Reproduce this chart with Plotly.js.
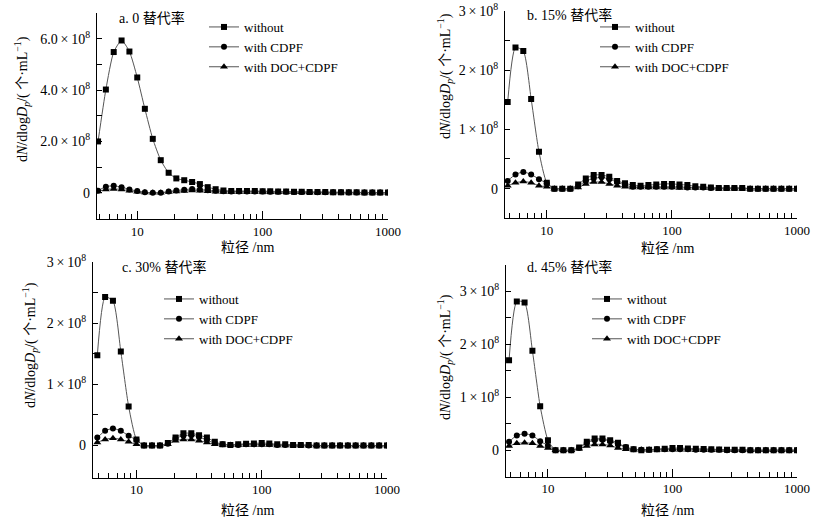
<!DOCTYPE html>
<html>
<head>
<meta charset="utf-8">
<script src="https://cdn.plot.ly/plotly-3.0.1.min.js"></script>
<style>html,body{margin:0;padding:0;background:#fff;}#chart{width:839px;height:523px;}</style>
</head>
<body>
<div id="chart"></div>
<script>
// particle diameter (nm)
const sizes = [4.87,5.62,6.49,7.50,8.66,10.0,11.5,13.3,15.4,17.8,20.5,23.7,27.4,31.6,36.5,42.2,48.7,56.2,64.9,75.0,86.6,100,115,133,154,178,205,237,274,316,365,422,487,562,649,750,866,1000];

// dN/dlogDp in units of 1e8 per mL
// a. 0 substitution
const a_without = [2.00,4.02,5.48,5.93,5.50,4.49,3.27,2.10,1.27,0.78,0.56,0.49,0.42,0.34,0.22,0.14,0.09,0.07,0.07,0.07,0.07,0.06,0.06,0.05,0.05,0.04,0.04,0.03,0.03,0.03,0.02,0.02,0.02,0.02,0.01,0.01,0.01,0.01];
const a_cdpf    = [0.08,0.24,0.27,0.22,0.13,0.07,0.02,0.00,0.00,0.05,0.09,0.12,0.15,0.13,0.10,0.08,0.06,0.05,0.05,0.05,0.05,0.05,0.04,0.04,0.04,0.03,0.03,0.03,0.02,0.02,0.02,0.02,0.01,0.01,0.01,0.01,0.01,0.01];
const a_doc     = [0.05,0.13,0.15,0.13,0.08,0.04,0.01,0.00,0.00,0.03,0.05,0.07,0.09,0.08,0.06,0.04,0.03,0.03,0.03,0.03,0.03,0.03,0.02,0.02,0.02,0.02,0.02,0.01,0.01,0.01,0.01,0.01,0.01,0.00,0.00,0.00,0.00,0.00];
// b. 15%
const b_without = [1.46,2.38,2.32,1.51,0.62,0.10,0.00,0.00,0.00,0.07,0.17,0.23,0.23,0.20,0.13,0.09,0.06,0.05,0.06,0.07,0.08,0.08,0.07,0.06,0.04,0.03,0.02,0.01,0.01,0.01,0.01,0.00,0.00,0.00,0.00,0.00,0.00,0.00];
const b_cdpf    = [0.13,0.24,0.28,0.24,0.16,0.09,0.00,0.00,0.00,0.04,0.13,0.17,0.19,0.16,0.11,0.06,0.03,0.03,0.03,0.03,0.03,0.03,0.03,0.02,0.02,0.02,0.01,0.01,0.01,0.01,0.01,0.00,0.00,0.00,0.00,0.00,0.00,0.00];
const b_doc     = [0.05,0.10,0.12,0.10,0.05,0.03,0.00,0.00,0.00,0.02,0.08,0.11,0.11,0.08,0.05,0.03,0.02,0.02,0.02,0.02,0.02,0.02,0.01,0.01,0.01,0.01,0.01,0.00,0.00,0.00,0.00,0.00,0.00,0.00,0.00,0.00,0.00,0.00];
// c. 30%
const c_without = [1.48,2.43,2.37,1.54,0.64,0.10,0.00,0.00,0.00,0.04,0.13,0.20,0.20,0.17,0.13,0.06,0.02,0.01,0.02,0.03,0.035,0.04,0.035,0.02,0.02,0.01,0.01,0.01,0.00,0.00,0.00,0.00,0.00,0.00,0.00,0.00,0.00,0.00];
const c_cdpf    = [0.13,0.24,0.28,0.24,0.16,0.09,0.00,0.00,0.00,0.03,0.12,0.16,0.17,0.14,0.09,0.04,0.02,0.01,0.01,0.02,0.02,0.02,0.02,0.01,0.01,0.01,0.01,0.00,0.00,0.00,0.00,0.00,0.00,0.00,0.00,0.00,0.00,0.00];
const c_doc     = [0.05,0.10,0.12,0.10,0.06,0.02,0.00,0.00,0.00,0.02,0.08,0.10,0.10,0.08,0.05,0.02,0.01,0.01,0.01,0.01,0.01,0.01,0.01,0.00,0.00,0.00,0.00,0.00,0.00,0.00,0.00,0.00,0.00,0.00,0.00,0.00,0.00,0.00];
// d. 45%
const d_without = [1.70,2.81,2.79,1.88,0.83,0.19,0.00,0.00,0.00,0.05,0.16,0.22,0.22,0.19,0.14,0.05,0.02,0.00,0.01,0.02,0.03,0.04,0.04,0.035,0.03,0.025,0.02,0.015,0.01,0.01,0.01,0.00,0.00,0.00,0.00,0.00,0.00,0.00];
const d_cdpf    = [0.16,0.28,0.31,0.28,0.17,0.09,0.00,0.00,0.00,0.04,0.14,0.19,0.20,0.17,0.11,0.06,0.02,0.01,0.01,0.02,0.02,0.02,0.02,0.02,0.01,0.01,0.01,0.01,0.00,0.00,0.00,0.00,0.00,0.00,0.00,0.00,0.00,0.00];
const d_doc     = [0.08,0.13,0.14,0.13,0.08,0.04,0.00,0.00,0.00,0.03,0.08,0.11,0.11,0.09,0.04,0.02,0.01,0.01,0.01,0.01,0.01,0.01,0.01,0.01,0.00,0.00,0.00,0.00,0.00,0.00,0.00,0.00,0.00,0.00,0.00,0.00,0.00,0.00];

const seriesNames = ['without','with CDPF','with DOC+CDPF'];
const panelLabels = ['a. 0 替代率','b. 15% 替代率','c. 30% 替代率','d. 45% 替代率'];
const xTickVals = [10,100,1000];
const xTickText = ['10','100','1000'];
const xMinorVals = [5,6,7,8,9,20,30,40,50,60,70,80,90,200,300,400,500,600,700,800,900];
const yTickA = [0,2,4,6];
const yTickTextA = ['0','2.0\u2009×\u200910<sup>8</sup>','4.0\u2009×\u200910<sup>8</sup>','6.0\u2009×\u200910<sup>8</sup>'];
const yMinorA = [1,3,5,7];
const yTick3 = [0,1,2,3];
const yTickText3 = ['0','1\u2009×\u200910<sup>8</sup>','2\u2009×\u200910<sup>8</sup>','3\u2009×\u200910<sup>8</sup>'];
const yMinor3 = [0.5,1.5,2.5,3.5];
const xTitle = '粒径 /nm';
const yTitle = 'd<i>N</i>/dlog<i>D</i><sub><i>p</i></sub>/( 个·mL<sup>−1</sup>)';

const W = 839, H = 523;
const FONT = "'Liberation Serif', 'Times New Roman', 'Noto Sans CJK SC', serif";
const px = v => v / W;
const py = v => 1 - v / H;

// panel geometry (pixels)
const panels = [
  {data:[a_without,a_cdpf,a_doc], x0:97,  x1:388, y0:13,    y1:219,   xr:[0.679,3], yr:[-1.02,7.0], tv:yTickA, tt:yTickTextA, mv:yMinorA,
   leg:{x:204,y:12}, lab:{x:117,y:18}, xt:{x:247,y:247}, yt:{x:22,y:99}},
  {data:[b_without,b_cdpf,b_doc], x0:505, x1:797, y0:10.7,  y1:218.3, xr:[0.666,3], yr:[-0.5,3.0], tv:yTick3, tt:yTickText3, mv:yMinor3,
   leg:{x:595,y:12}, lab:{x:525,y:15}, xt:{x:667,y:248}, yt:{x:445,y:76}},
  {data:[c_without,c_cdpf,c_doc], x0:93,  x1:387, y0:262.3, y1:477.7, xr:[0.653,3], yr:[-0.527,3.0], tv:yTick3, tt:yTickText3, mv:yMinor3,
   leg:{x:159,y:284}, lab:{x:120,y:267}, xt:{x:247,y:510}, yt:{x:30,y:345}},
  {data:[d_without,d_cdpf,d_doc], x0:506, x1:797, y0:265,   y1:476.7, xr:[0.663,3], yr:[-0.5,3.5], tv:yTick3, tt:yTickText3, mv:yMinor3,
   leg:{x:587,y:284}, lab:{x:525,y:267}, xt:{x:667,y:510}, yt:{x:445,y:357}}
];

const symbols = ['square','circle','triangle-up'];
const msizes = [6,6,7];
const traces = [];
const layout = {
  width: W, height: H,
  margin: {l:0, r:0, t:0, b:0},
  paper_bgcolor: '#fff', plot_bgcolor: 'rgba(0,0,0,0)',
  font: {family: FONT, size: 13, color: '#000'},
  hovermode: false, dragmode: false,
  annotations: []
};

panels.forEach((p, k) => {
  const n = k === 0 ? '' : String(k + 1);
  const xa = 'x' + n, ya = 'y' + n;
  const legName = 'legend' + n;
  // draw order: DOC, CDPF, without (without on top); legend ranked
  [2,1,0].forEach(s => {
    traces.push({
      x: sizes, y: p.data[s], xaxis: xa, yaxis: ya,
      type: 'scatter', mode: 'lines+markers',
      name: seriesNames[s], legend: legName, legendrank: s + 1,
      line: {color: '#555', width: 1, shape: 'spline', smoothing: 0.6},
      marker: {symbol: symbols[s], size: msizes[s], color: '#000'}
    });
  });
  layout['xaxis' + n] = {
    domain: [px(p.x0), px(p.x1)], anchor: ya, type: 'log', range: p.xr,
    showline: true, linecolor: '#000', linewidth: 1.3, showgrid: false, zeroline: false,
    tickmode: 'array', tickvals: xTickVals, ticktext: xTickText,
    ticks: 'inside', ticklen: 8, tickwidth: 1, tickcolor: '#000',
    minor: {tickmode: 'array', tickvals: xMinorVals, ticks: 'inside', ticklen: 5, tickwidth: 1, tickcolor: '#000'},
    tickfont: {family: FONT, size: 13, color: '#000'}, fixedrange: true
  };
  layout['yaxis' + n] = {
    domain: [py(p.y1), py(p.y0)], anchor: xa, range: p.yr,
    showline: true, linecolor: '#000', linewidth: 1.3, showgrid: false, zeroline: false,
    tickmode: 'array', tickvals: p.tv, ticktext: p.tt,
    ticks: 'inside', ticklen: 5, tickwidth: 1, tickcolor: '#000',
    minor: {tickmode: 'array', tickvals: p.mv, ticks: 'inside', ticklen: 5, tickwidth: 1, tickcolor: '#000'},
    tickfont: {family: FONT, size: 14, color: '#000'}, ticklabelstandoff: 3, fixedrange: true
  };
  layout[legName] = {
    x: px(p.leg.x), y: py(p.leg.y), xanchor: 'left', yanchor: 'top',
    bgcolor: 'rgba(0,0,0,0)', borderwidth: 0, traceorder: 'normal',
    font: {family: FONT, size: 13, color: '#000'}
  };
  layout.annotations.push(
    {text: panelLabels[k], x: px(p.lab.x), y: py(p.lab.y), xref: 'paper', yref: 'paper',
     xanchor: 'left', yanchor: 'middle', showarrow: false, font: {family: FONT, size: 14, color: '#000'}},
    {text: xTitle, x: px(p.xt.x), y: py(p.xt.y), xref: 'paper', yref: 'paper',
     xanchor: 'center', yanchor: 'middle', showarrow: false, font: {family: FONT, size: 14, color: '#000'}},
    {text: yTitle, x: px(p.yt.x), y: py(p.yt.y), xref: 'paper', yref: 'paper', textangle: -90,
     xanchor: 'center', yanchor: 'middle', showarrow: false, font: {family: FONT, size: 14, color: '#000'}}
  );
});

Plotly.newPlot('chart', traces, layout, {displayModeBar: false});
</script>
</body>
</html>
